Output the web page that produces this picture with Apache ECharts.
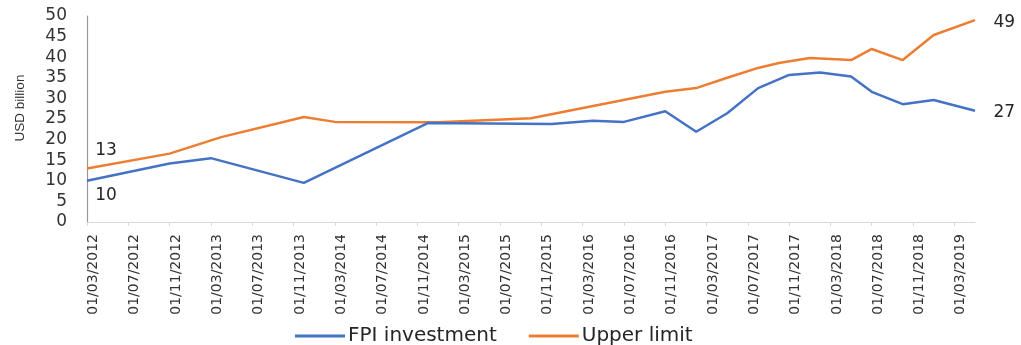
<!DOCTYPE html>
<html>
<head>
<meta charset="utf-8">
<script src="https://cdn.jsdelivr.net/npm/echarts@6/dist/echarts.min.js"></script>
<style>
  html, body { margin: 0; padding: 0; background: #ffffff; }
  #chart { width: 1021px; height: 345px; }
</style>
</head>
<body>
<div id="chart"></div>
<script>
// Monthly category axis: March 2012 to May 2019, labelled every four months
const firstMonth = { year: 2012, month: 3 };
const lastMonth = { year: 2019, month: 5 };

// FPI investment, USD billion (turning points of the monthly series)
const fpiDates = ['01/03/2012', '01/11/2012', '01/03/2013', '01/12/2013', '01/12/2014',
  '01/06/2015', '01/12/2015', '01/04/2016', '01/07/2016', '01/11/2016', '01/02/2017',
  '01/05/2017', '01/08/2017', '01/11/2017', '01/02/2018', '01/05/2018', '01/07/2018',
  '01/10/2018', '01/01/2019', '01/05/2019'];
const fpiValues = [10, 14.2, 15.5, 9.5, 24.0, 23.9, 23.8, 24.6, 24.3, 26.9, 21.9,
  26.4, 32.5, 35.7, 36.3, 35.3, 31.6, 28.6, 29.6, 27];

// Upper limit, USD billion
const limitDates = ['01/03/2012', '01/11/2012', '01/04/2013', '01/12/2013', '01/03/2014',
  '01/01/2015', '01/10/2015', '01/11/2016', '01/02/2017', '01/05/2017', '01/08/2017',
  '01/10/2017', '01/01/2018', '01/05/2018', '01/07/2018', '01/10/2018', '01/01/2019',
  '01/05/2019'];
const limitValues = [13, 16.6, 20.6, 25.5, 24.3, 24.2, 25.2, 31.6, 32.5, 35, 37.4,
  38.6, 39.8, 39.3, 42, 39.3, 45.4, 49];

const yTicks = { min: 0, max: 50, step: 5 };

const seriesNames = ['FPI investment', 'Upper limit'];
const seriesColors = ['#4472c4', '#ed7d31'];

function pad2(n) { return (n < 10 ? '0' : '') + n; }
const categories = [];
for (let y = firstMonth.year, m = firstMonth.month;
     y < lastMonth.year || (y === lastMonth.year && m <= lastMonth.month); ) {
  categories.push('01/' + pad2(m) + '/' + y);
  m++;
  if (m > 12) { m = 1; y++; }
}

function pairs(dates, values) {
  return dates.map((d, i) => [d, values[i]]);
}

const annFont = { fontFamily: 'DejaVu Sans', fontSize: 17, color: '#262626' };

// Value labels at the first and last point of a series
function endMarks(dates, values, startPos, startDist) {
  const n = values.length - 1;
  return {
    symbol: 'circle',
    symbolSize: 1,
    itemStyle: { color: 'rgba(0,0,0,0)' },
    animation: false,
    data: [
      { coord: [dates[0], values[0]], value: values[0],
        label: Object.assign({ show: true, position: startPos, distance: startDist,
          offset: [19, 0], formatter: '{c}' }, annFont) },
      { coord: [dates[n], values[n]], value: values[n],
        label: Object.assign({ show: true, position: 'right', distance: 18,
          offset: [0, 2], formatter: '{c}' }, annFont) }
    ]
  };
}

const chart = echarts.init(document.getElementById('chart'));
chart.setOption({
  animation: false,
  backgroundColor: '#ffffff',
  grid: { left: 87, right: 46, top: 16, bottom: 123 },
  legend: {
    left: 290,
    top: 321,
    icon: 'rect',
    itemWidth: 50,
    itemHeight: 3,
    itemGap: 32,
    textStyle: { fontFamily: 'DejaVu Sans', fontSize: 20, color: '#262626', padding: [0, 0, 0, -2] },
    data: seriesNames
  },
  xAxis: {
    type: 'category',
    boundaryGap: false,
    data: categories,
    axisLine: { lineStyle: { color: '#d9d9d9', width: 1 } },
    axisTick: { show: true, interval: 3, length: 4, lineStyle: { color: '#d9d9d9' } },
    axisLabel: {
      interval: 3,
      rotate: 90,
      margin: 12,
      verticalAlign: 'top',
      fontFamily: 'DejaVu Sans',
      fontSize: 14,
      lineHeight: 13,
      color: '#333333'
    },
    splitLine: { show: false }
  },
  yAxis: {
    type: 'value',
    min: yTicks.min,
    max: yTicks.max,
    interval: yTicks.step,
    name: 'USD billion',
    nameLocation: 'middle',
    nameGap: 60,
    nameTextStyle: { fontFamily: 'Liberation Sans', fontSize: 13.5, color: '#333333', padding: [0, 0, 0, 22] },
    axisLine: { show: true, lineStyle: { color: '#999999', width: 1.2 } },
    axisTick: { show: false },
    axisLabel: { margin: 20, fontFamily: 'DejaVu Sans', fontSize: 17, color: '#333333' },
    splitLine: { show: false }
  },
  series: [
    {
      name: seriesNames[0],
      type: 'line',
      data: pairs(fpiDates, fpiValues),
      showSymbol: false,
      color: seriesColors[0],
      lineStyle: { width: 2.5, color: seriesColors[0] },
      markPoint: endMarks(fpiDates, fpiValues, 'bottom', 6),
      z: 3
    },
    {
      name: seriesNames[1],
      type: 'line',
      data: pairs(limitDates, limitValues),
      showSymbol: false,
      color: seriesColors[1],
      lineStyle: { width: 2.5, color: seriesColors[1] },
      markPoint: endMarks(limitDates, limitValues, 'top', 9),
      z: 2
    }
  ]
});
</script>
</body>
</html>
